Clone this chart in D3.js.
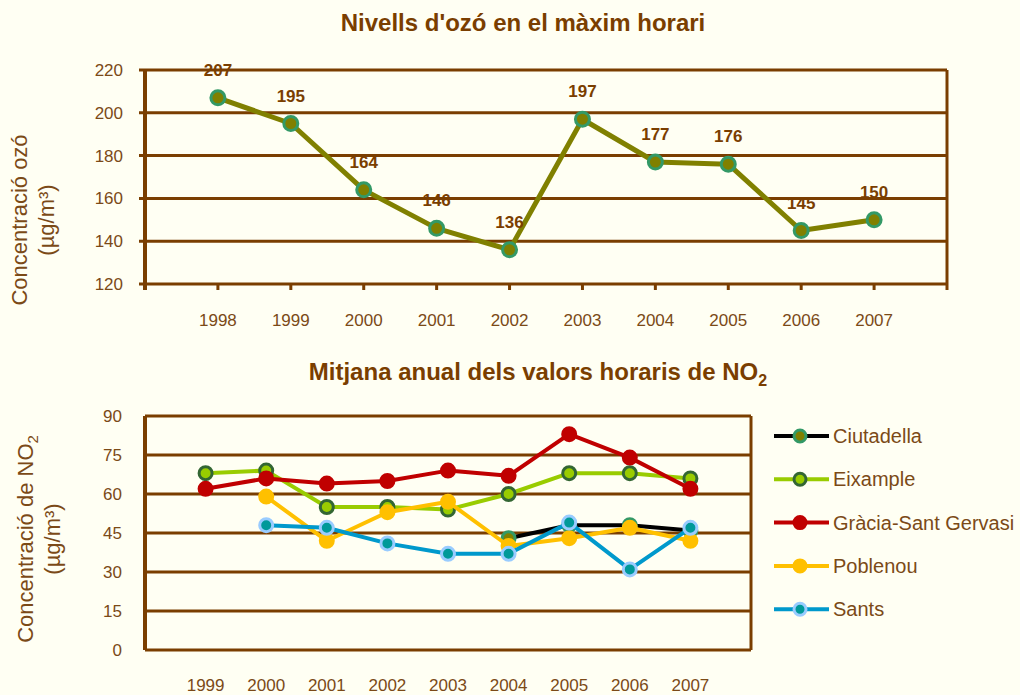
<!DOCTYPE html>
<html>
<head>
<meta charset="utf-8">
<script src="https://cdn.jsdelivr.net/npm/d3@7"></script>
<style>
	body { margin: 0; background: #fffff3; }
	text { font-family: "Liberation Sans", Arial, sans-serif; }
</style>
</head>
<body>
<div id="mainDiv"></div>
<script>
// Ozone: hourly maximum per year
const ozoneYears =	["1998", "1999", "2000", "2001", "2002", "2003", "2004", "2005", "2006", "2007"];
const ozoneValues =	[207, 195, 164, 146, 136, 197, 177, 176, 145, 150];
const ozoneTicks =	[120, 140, 160, 180, 200, 220];

// NO2: annual mean per station
const no2Years =	["1999", "2000", "2001", "2002", "2003", "2004", "2005", "2006", "2007"];
const no2Ticks =	[0, 15, 30, 45, 60, 75, 90];
const stations =	["Ciutadella", "Eixample", "Gràcia-Sant Gervasi", "Poblenou", "Sants"];
const ciutadella =	[null, null, null, null, null, 43, 48, 48, 46];
const eixample =	[68, 69, 55, 55, 54, 60, 68, 68, 66];
const gracia =		[62, 66, 64, 65, 69, 67, 83, 74, 62];
const poblenou =	[null, 59, 42, 53, 57, 40, 43, 47, 42];
const sants =		[null, 48, 47, 41, 37, 37, 49, 31, 47];
const no2Series =	[ciutadella, eixample, gracia, poblenou, sants];

// colours per station: line, marker stroke, marker fill
const lineColors =	["#000000", "#99cc00", "#c00000", "#ffc000", "#0099cc"];
const ringColors =	["#339966", "#336633", "#c00000", "#ffc000", "#99ccff"];
const dotColors =	["#808000", "#99cc00", "#c00000", "#ffc000", "#009999"];

const brown = "#7a3e00",
	textBrown = "#7b4a17",
	width = 1020,
	height = 695;

let svg = d3.select("#mainDiv").append("svg")
			.attr("width", width)
			.attr("height", height)
			.style("background", "#fffff3");

// ---------- top chart ----------
let x1 = d3.scalePoint().domain(ozoneYears).range([145, 947]).padding(1),
	y1 = d3.scaleLinear().domain([120, 220]).range([284, 70]);

let gTop = svg.append("g");

gTop.append("text")
	.attr("x", 523).attr("y", 31)
	.attr("text-anchor", "middle")
	.style("font-size", "24px").style("font-weight", "bold")
	.attr("fill", brown)
	.text("Nivells d'ozó en el màxim horari");

// gridlines + left ticks
gTop.selectAll(".grid")
	.data(ozoneTicks)
	.enter().append("line")
		.attr("x1", 139).attr("x2", 947)
		.attr("y1", d => y1(d)).attr("y2", d => y1(d))
		.attr("stroke", brown).attr("stroke-width", 3);

gTop.selectAll(".ylab")
	.data(ozoneTicks)
	.enter().append("text")
		.attr("x", 123).attr("y", d => y1(d))
		.attr("dy", "0.35em")
		.attr("text-anchor", "end")
		.style("font-size", "17px")
		.attr("fill", textBrown)
		.text(d => d);

// frame sides
gTop.append("line").attr("x1", 145).attr("x2", 145).attr("y1", 70).attr("y2", 290)
	.attr("stroke", brown).attr("stroke-width", 4);
gTop.append("line").attr("x1", 947).attr("x2", 947).attr("y1", 70).attr("y2", 290)
	.attr("stroke", brown).attr("stroke-width", 3);

// bottom ticks
gTop.selectAll(".xtick")
	.data(ozoneYears)
	.enter().append("line")
		.attr("x1", d => x1(d)).attr("x2", d => x1(d))
		.attr("y1", 284).attr("y2", 290)
		.attr("stroke", brown).attr("stroke-width", 3);

gTop.selectAll(".xlab")
	.data(ozoneYears)
	.enter().append("text")
		.attr("x", d => x1(d)).attr("y", 326)
		.attr("text-anchor", "middle")
		.style("font-size", "17px")
		.attr("fill", textBrown)
		.text(d => d);

// y axis title
let yt1 = gTop.append("text")
	.attr("transform", "translate(27,220) rotate(-90)")
	.attr("text-anchor", "middle")
	.style("font-size", "22px")
	.attr("fill", textBrown);
yt1.append("tspan").attr("x", 0).attr("dy", 0).text("Concentració  ozó");
yt1.append("tspan").attr("x", 0).attr("dy", 27).text("(µg/m³)");

let ozoneLine = d3.line()
	.x((d, i) => x1(ozoneYears[i]))
	.y(d => y1(d));

gTop.append("path")
	.datum(ozoneValues)
	.attr("d", ozoneLine)
	.attr("fill", "none")
	.attr("stroke", "#808000")
	.attr("stroke-width", 5)
	.attr("stroke-linejoin", "round");

gTop.selectAll(".dot")
	.data(ozoneValues)
	.enter().append("circle")
		.attr("cx", (d, i) => x1(ozoneYears[i]))
		.attr("cy", d => y1(d))
		.attr("r", 7)
		.attr("fill", "#808000")
		.attr("stroke", "#339966")
		.attr("stroke-width", 3);

gTop.selectAll(".val")
	.data(ozoneValues)
	.enter().append("text")
		.attr("x", (d, i) => x1(ozoneYears[i]))
		.attr("y", d => y1(d) - 22)
		.attr("text-anchor", "middle")
		.style("font-size", "17px").style("font-weight", "bold")
		.attr("fill", brown)
		.text(d => d);

// ---------- bottom chart ----------
let x2 = d3.scalePoint().domain(no2Years).range([145, 751]).padding(1),
	y2 = d3.scaleLinear().domain([0, 90]).range([650, 416]);

let gBot = svg.append("g");

let t2 = gBot.append("text")
	.attr("x", 538).attr("y", 380)
	.attr("text-anchor", "middle")
	.style("font-size", "24px").style("font-weight", "bold")
	.attr("fill", brown);
t2.append("tspan").text("Mitjana anual dels  valors horaris de NO");
t2.append("tspan").attr("dy", 6).style("font-size", "16px").text("2");

gBot.selectAll(".grid")
	.data(no2Ticks)
	.enter().append("line")
		.attr("x1", 145).attr("x2", 751)
		.attr("y1", d => y2(d)).attr("y2", d => y2(d))
		.attr("stroke", brown).attr("stroke-width", 3);

gBot.append("line").attr("x1", 145).attr("x2", 145).attr("y1", 416).attr("y2", 650)
	.attr("stroke", brown).attr("stroke-width", 4);
gBot.append("line").attr("x1", 751).attr("x2", 751).attr("y1", 416).attr("y2", 650)
	.attr("stroke", brown).attr("stroke-width", 3);

gBot.selectAll(".ylab")
	.data(no2Ticks)
	.enter().append("text")
		.attr("x", 122).attr("y", d => y2(d))
		.attr("dy", "0.35em")
		.attr("text-anchor", "end")
		.style("font-size", "17px")
		.attr("fill", textBrown)
		.text(d => d);

gBot.selectAll(".xlab")
	.data(no2Years)
	.enter().append("text")
		.attr("x", d => x2(d)).attr("y", 691)
		.attr("text-anchor", "middle")
		.style("font-size", "17px")
		.attr("fill", textBrown)
		.text(d => d);

let yt2 = gBot.append("text")
	.attr("transform", "translate(33,539) rotate(-90)")
	.attr("text-anchor", "middle")
	.style("font-size", "22px")
	.attr("fill", textBrown);
let l1 = yt2.append("tspan").attr("x", 0).attr("dy", 0);
l1.append("tspan").text("Concentració de NO");
l1.append("tspan").attr("dy", 5).style("font-size", "15px").text("2");
yt2.append("tspan").attr("x", 0).attr("dy", 22).text("(µg/m³)");

let no2Line = d3.line()
	.defined(d => d != null)
	.x((d, i) => x2(no2Years[i]))
	.y(d => y2(d));

no2Series.forEach(function(series, s) {

	let g = gBot.append("g");

	g.append("path")
		.datum(series)
		.attr("d", no2Line)
		.attr("fill", "none")
		.attr("stroke", lineColors[s])
		.attr("stroke-width", 4)
		.attr("stroke-linejoin", "round");

	g.selectAll("circle")
		.data(series.map((v, i) => ({v: v, year: no2Years[i]})).filter(d => d.v != null))
		.enter().append("circle")
			.attr("cx", d => x2(d.year))
			.attr("cy", d => y2(d.v))
			.attr("r", 6.5)
			.attr("fill", dotColors[s])
			.attr("stroke", ringColors[s])
			.attr("stroke-width", 3);
});

// legend
let legend = gBot.selectAll(".legend")
	.data(stations)
	.enter().append("g")
		.attr("transform", (d, i) => "translate(0," + (436 + i * 43.3) + ")");

legend.append("line")
	.attr("x1", 774).attr("x2", 829)
	.attr("stroke", (d, i) => lineColors[i])
	.attr("stroke-width", 4);

legend.append("circle")
	.attr("cx", 800).attr("r", 6)
	.attr("fill", (d, i) => dotColors[i])
	.attr("stroke", (d, i) => ringColors[i])
	.attr("stroke-width", 3);

legend.append("text")
	.attr("x", 833).attr("dy", "0.35em")
	.style("font-size", "20px")
	.attr("fill", textBrown)
	.text(d => d);
</script>
</body>
</html>
